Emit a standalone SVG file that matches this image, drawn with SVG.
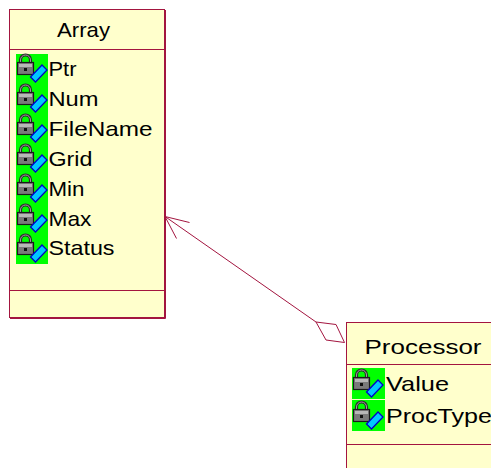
<svg xmlns="http://www.w3.org/2000/svg" xmlns:xlink="http://www.w3.org/1999/xlink" width="491" height="468" viewBox="0 0 491 468">
<style>
.box{fill:#FFFFCC;stroke:#A3153F;stroke-width:1}
.sep{stroke:#A3153F;stroke-width:1}
.sh{fill:none;stroke:#A3153F;stroke-width:1}
.t{font-family:"Liberation Sans",Arial,sans-serif;font-size:21px;fill:#000}
.conn{fill:none;stroke:#A3153F;stroke-width:1}
</style>
<defs>
<g id="icon">
<path d="M4.5,9 V6 A5,5 0 0 1 14.5,6 V9" fill="none" stroke="#2A2A2A" stroke-width="3.2"/>
<path d="M4.5,9 V6 A5,5 0 0 1 14.5,6 V9" fill="none" stroke="#A0A0A0" stroke-width="1"/>
<rect x="1.5" y="8.5" width="16" height="12" fill="#7A7A7A" stroke="#1A1A1A" stroke-width="1.2"/>
<rect x="3" y="10" width="13" height="3" fill="#B8B8B8"/>
<rect x="8" y="14" width="3" height="3" fill="#111"/>
<polygon points="14.5,23 26,11 31,16 19.5,28" fill="#00C8FF" stroke="#0000C8" stroke-width="1.3"/>
</g>
</defs>
<g id="connectors">
<polyline class="conn" points="316,322 165,216.5"/>
<polyline class="conn" points="189.5,222.5 165,216.5 176.5,238.5"/>
<polygon class="conn" fill="#FFFFFF" points="316,322 336,324.5 344.5,342.5 326,340"/>
</g>
<g id="Array">
<rect class="box" x="9.5" y="9.5" width="155" height="308"/>
<polyline class="sh" points="165.5,10 165.5,318.5 10,318.5"/>
<line class="sep" x1="9.5" y1="49.5" x2="164.5" y2="49.5"/>
<line class="sep" x1="9.5" y1="290.5" x2="164.5" y2="290.5"/>
<text class="t" x="57" y="37" textLength="53" lengthAdjust="spacingAndGlyphs">Array</text>
<rect x="16" y="54" width="32" height="210" fill="#00FF00"/>
<use xlink:href="#icon" x="16" y="54"/>
<use xlink:href="#icon" x="16" y="84"/>
<use xlink:href="#icon" x="16" y="114"/>
<use xlink:href="#icon" x="16" y="144"/>
<use xlink:href="#icon" x="16" y="174"/>
<use xlink:href="#icon" x="16" y="204"/>
<use xlink:href="#icon" x="16" y="234"/>
<text class="t" x="48.5" y="76" textLength="28" lengthAdjust="spacingAndGlyphs">Ptr</text>
<text class="t" x="48.5" y="106" textLength="50" lengthAdjust="spacingAndGlyphs">Num</text>
<text class="t" x="48.5" y="136" textLength="104" lengthAdjust="spacingAndGlyphs">FileName</text>
<text class="t" x="48.5" y="166" textLength="44" lengthAdjust="spacingAndGlyphs">Grid</text>
<text class="t" x="48.5" y="196" textLength="36" lengthAdjust="spacingAndGlyphs">Min</text>
<text class="t" x="48.5" y="225.5" textLength="43" lengthAdjust="spacingAndGlyphs">Max</text>
<text class="t" x="48.5" y="255" textLength="66" lengthAdjust="spacingAndGlyphs">Status</text>
</g>
<g id="Processor">
<rect class="box" x="346.5" y="322.5" width="200" height="200"/>
<line class="sep" x1="346.5" y1="364.5" x2="491" y2="364.5"/>
<line class="sep" x1="346.5" y1="444.5" x2="491" y2="444.5"/>
<text class="t" x="364.5" y="354" textLength="117" lengthAdjust="spacingAndGlyphs">Processor</text>
<rect x="352" y="368" width="33" height="31" fill="#00FF00"/>
<rect x="352" y="400" width="33" height="31" fill="#00FF00"/>
<use xlink:href="#icon" x="352" y="369"/>
<use xlink:href="#icon" x="352" y="401"/>
<text class="t" x="386" y="391" textLength="63" lengthAdjust="spacingAndGlyphs">Value</text>
<text class="t" x="386" y="423" textLength="106" lengthAdjust="spacingAndGlyphs">ProcType</text>
</g>
</svg>
